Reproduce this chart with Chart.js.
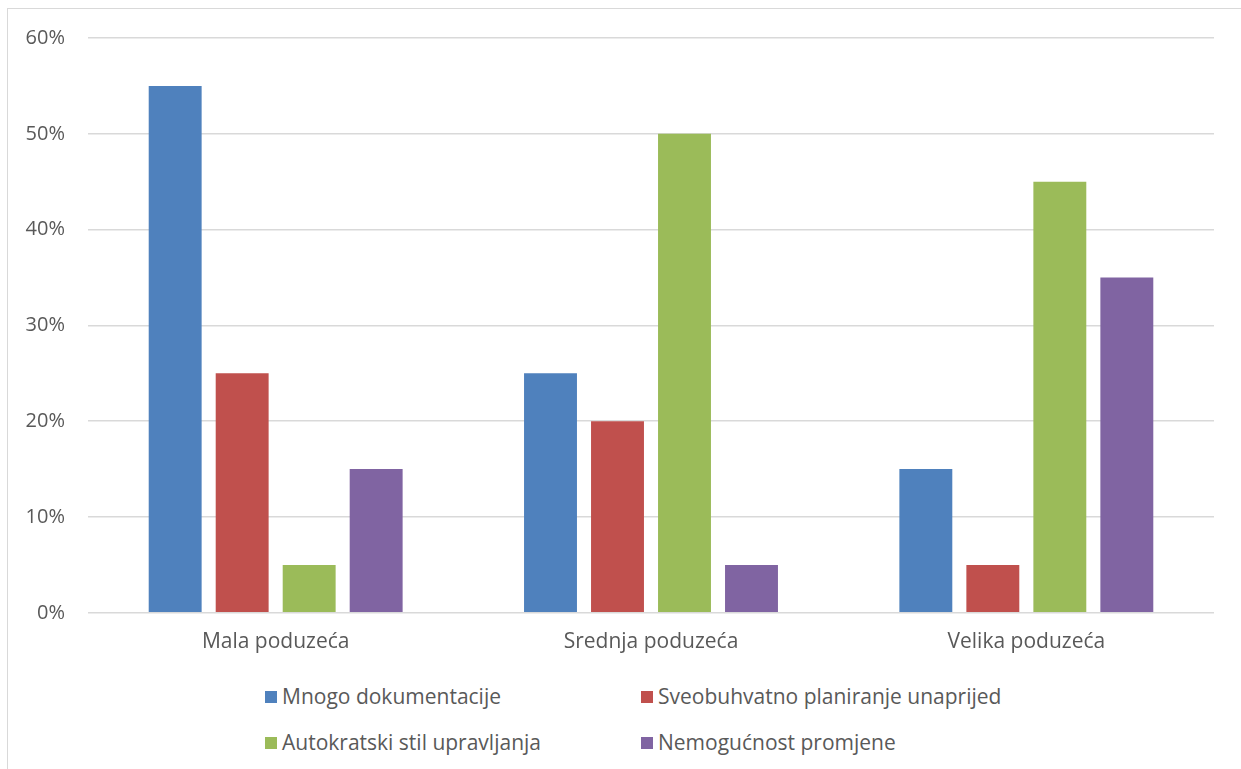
<!DOCTYPE html>
<html>
<head>
<meta charset="utf-8">
<script src="https://cdn.jsdelivr.net/npm/chart.js@4.4.1/dist/chart.umd.min.js"></script>
<style>
  html, body { margin: 0; padding: 0; background: #fff; }
  #frame { position: absolute; left: 7px; top: 8px; width: 1300px; height: 800px; border: 1.5px solid #d9d9d9; }
  #wrap { position: absolute; left: 0; top: 0; width: 1241px; height: 670px; }
  .legend { position: absolute; font-family: "Open Sans", sans-serif; font-size: 21px; color: #595959; white-space: nowrap; }
  .legend span.box { display: inline-block; width: 12px; height: 12px; margin-right: 5px; vertical-align: middle; position: relative; top: -1px; }
</style>
</head>
<body>
<div id="frame"></div>
<div id="wrap"><canvas id="barChart"></canvas></div>
<div id="legend"></div>
<script>
const categories = ['Mala poduzeća', 'Srednja poduzeća', 'Velika poduzeća'];
const seriesNames = ['Mnogo dokumentacije', 'Sveobuhvatno planiranje unaprijed', 'Autokratski stil upravljanja', 'Nemogućnost promjene'];
const dokumentacija = [55, 25, 15];
const planiranje = [25, 20, 5];
const autokratski = [5, 50, 45];
const promjena = [15, 5, 35];
const yTicks = [0, 10, 20, 30, 40, 50, 60];

const colors = ['#4F81BD', '#C0504D', '#9BBB59', '#8064A2'];
const seriesValues = [dokumentacija, planiranje, autokratski, promjena];

// legenda u dva stupca kao u originalu
const legendPos = [[265, 682], [641, 682], [265, 728], [641, 728]];
const legendEl = document.getElementById('legend');
seriesNames.forEach((name, i) => {
    const d = document.createElement('div');
    d.className = 'legend';
    d.style.left = legendPos[i][0] + 'px';
    d.style.top = legendPos[i][1] + 'px';
    d.innerHTML = '<span class="box" style="background:' + colors[i] + '"></span>' + name;
    legendEl.appendChild(d);
});

const ctx = document.getElementById('barChart');
new Chart(ctx, {
    type: 'bar',
    data: {
        labels: categories,
        datasets: seriesNames.map((name, i) => ({
            label: name,
            data: seriesValues[i],
            backgroundColor: colors[i],
            borderWidth: 0,
            categoryPercentage: 0.714,
            barPercentage: 0.79
        }))
    },
    options: {
        responsive: true,
        maintainAspectRatio: false,
        animation: false,
        layout: { padding: { top: 38, right: 27, bottom: 6, left: 0 } },
        plugins: {
            legend: { display: false },
            tooltip: { enabled: false }
        },
        scales: {
            x: {
                grid: { display: false },
                border: { display: false },
                ticks: { color: '#595959', padding: 9, font: { family: '"Open Sans", sans-serif', size: 21 } }
            },
            y: {
                min: 0,
                max: 60,
                afterFit: (s) => { s.width = 88; },
                afterBuildTicks: (s) => { s.ticks = yTicks.map(v => ({ value: v })); },
                grid: { color: '#d9d9d9', lineWidth: 1.5, drawTicks: false },
                border: { display: false },
                ticks: {
                    color: '#595959',
                    padding: 23,
                    font: { family: '"Open Sans", sans-serif', size: 20 },
                    callback: (v) => v + '%'
                }
            }
        }
    }
});
</script>
</body>
</html>
